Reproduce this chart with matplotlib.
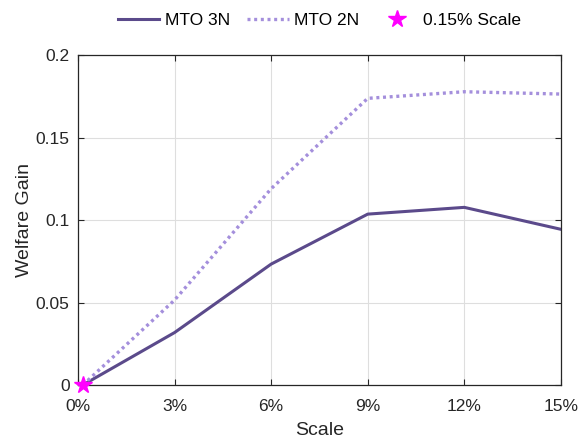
import matplotlib.pyplot as plt
import numpy as np

plt.rcParams['font.family'] = ['Liberation Sans', 'DejaVu Sans']

scale_pct = [0.15, 3, 6, 9, 12, 15]
mto_3n = [0.0, 0.0318, 0.0733, 0.1036, 0.1077, 0.0944]
mto_2n = [0.0, 0.0515, 0.1190, 0.1738, 0.1778, 0.1764]
star_x = [0.15]
star_y = [0.0]

x_ticks = [0, 3, 6, 9, 12, 15]
y_ticks = [0, 0.05, 0.1, 0.15, 0.2]

fig = plt.figure(figsize=(5.8, 4.41), dpi=100, facecolor='white')
ax = fig.add_axes([0.1345, 0.127, 0.8325, 0.748])

ax.plot(scale_pct, mto_3n, color='#5b4a8b', linewidth=2.2, label='MTO 3N')
ax.plot(scale_pct, mto_2n, color='#a48fdc', linewidth=2.4, linestyle=(0, (0.9, 1.1)), label='MTO 2N')
ax.plot(star_x, star_y, linestyle='none', marker='*', markersize=13,
        color='#ff00ff', label='0.15% Scale', clip_on=False, zorder=5)

ax.set_xlim(0, 15)
ax.set_ylim(0, 0.2)
ax.set_xticks(x_ticks)
ax.set_xticklabels([f'{t}%' for t in x_ticks])
ax.set_yticks(y_ticks)
ax.set_yticklabels(['0', '0.05', '0.1', '0.15', '0.2'])

ax.grid(True, color='#dedede', linewidth=0.8)
ax.set_axisbelow(True)
ax.tick_params(direction='in', top=True, right=True, labelsize=12.5,
               colors='#262626', length=4, width=0.8)
ax.tick_params(axis='x', pad=10)
ax.tick_params(axis='y', pad=6)
for s in ax.spines.values():
    s.set_color('#262626')
    s.set_linewidth(0.9)

ax.set_xlabel('Scale', fontsize=14, color='#262626', labelpad=6)
ax.set_ylabel('Welfare Gain', fontsize=14, color='#262626', labelpad=2)

ax.legend(loc='lower center', bbox_to_anchor=(0.5, 1.035), ncol=3, frameon=False,
          fontsize=12.5, handlelength=2.4, handletextpad=0.3, columnspacing=1.0)

fig.savefig('out.png', dpi=100)
